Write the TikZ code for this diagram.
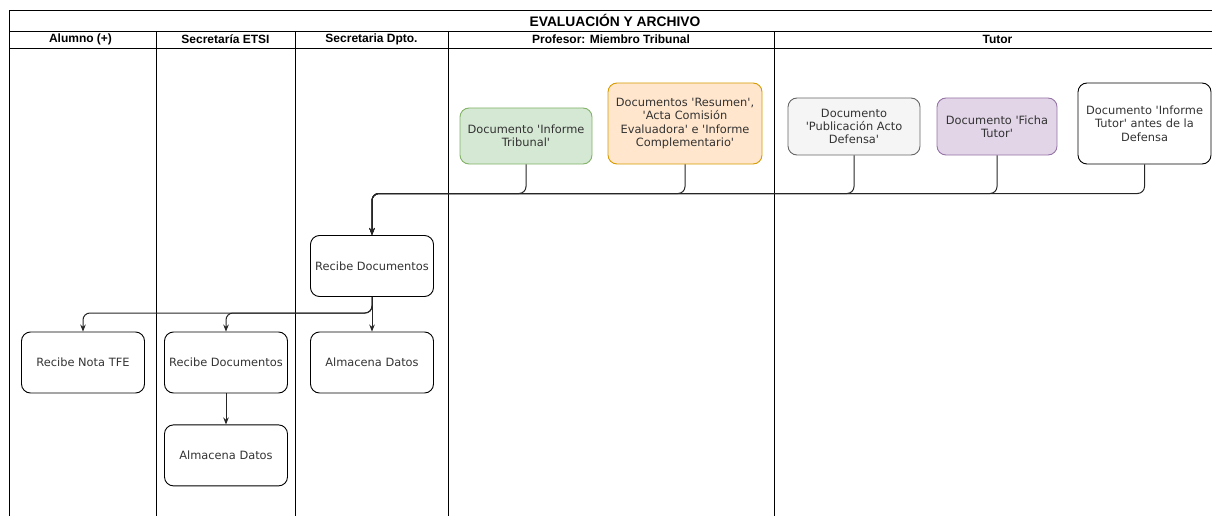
\documentclass[tikz,border=0pt]{standalone}
\usepackage{fontspec}
\setmainfont{DejaVu Sans}
\newfontfamily\headfont{Liberation Sans}
\newfontfamily\boxfont{DejaVu Sans}
\usepackage{xcolor}
\usetikzlibrary{positioning, arrows.meta}

\definecolor{txtgray}{HTML}{333333}
\definecolor{greenfill}{HTML}{D5E8D4}
\definecolor{greendraw}{HTML}{82B366}
\definecolor{orangefill}{HTML}{FFE6CC}
\definecolor{orangedraw}{HTML}{D79B00}
\definecolor{grayfill}{HTML}{F5F5F5}
\definecolor{graydraw}{HTML}{666666}
\definecolor{purplefill}{HTML}{E1D5E7}
\definecolor{purpledraw}{HTML}{9673A6}

\tikzset{
  box/.style={draw, rounded corners=9pt, align=center, text=txtgray, inner sep=2pt,
    font=\boxfont\fontsize{11.4}{13.3}\selectfont, line width=0.9pt,
    minimum width=123pt, minimum height=61pt},
  lanehead/.style={font=\headfont\bfseries\fontsize{12}{14}\selectfont},
  flow/.style={->, rounded corners=7pt, line width=1pt, draw=black!85}
}

\begin{document}
\begin{tikzpicture}[x=1pt, y=-1pt, >={Stealth[length=7pt,width=5.5pt]}, node distance=31pt]
  \useasboundingbox (0,0) rectangle (1212,516);
  \clip (0,0) rectangle (1212,516);

  % pool and lanes
  \draw[line width=0.9pt] (9,530) -- (9,10) -- (1221,10) -- (1221,530);
  \draw[line width=0.9pt] (9,31) -- (1221,31);
  \draw[line width=0.9pt] (9,48) -- (1221,48);
  \foreach \x in {156,295,448,774}
    \draw[line width=0.9pt] (\x,31) -- (\x,530);

  \node[font=\headfont\bfseries\fontsize{13.8}{15}\selectfont] (title) at (615,20.5) {EVALUACIÓN Y ARCHIVO};
  \node[lanehead] (hAlumno) at (80.5,39.5) {Alumno (+)};
  \node[lanehead] (hEtsi) at (225.5,39.5) {Secretaría ETSI};
  \node[lanehead] (hDpto) at (371.5,39.5) {Secretaria Dpto.};
  \node[lanehead] (hProfesor) at (611,39.5) {Profesor: Miembro Tribunal};
  \node[lanehead] (hTutor) at (997.5,39.5) {Tutor};

  % documents
  \node[box, fill=greenfill, draw=greendraw, minimum width=132pt, minimum height=56pt] (tribunal) at (526,136) {Documento 'Informe\\Tribunal'};
  \node[box, fill=orangefill, draw=orangedraw, minimum width=154pt, minimum height=81pt] (resumen) at (685,123.5) {Documentos 'Resumen',\\'Acta Comisión\\Evaluadora' e 'Informe\\Complementario'};
  \node[box, fill=grayfill, draw=graydraw, minimum width=132pt, minimum height=57pt] (publicacion) at (854,126.5) {Documento\\'Publicación Acto\\Defensa'};
  \node[box, fill=purplefill, draw=purpledraw, minimum width=120pt, minimum height=57pt] (ficha) at (997,126.5) {Documento 'Ficha\\Tutor'};
  \node[box, minimum width=133pt, minimum height=81pt] (infTutor) at (1144.5,123.5) {Documento 'Informe\\Tutor' antes de la\\Defensa};

  % secretarias y alumno
  \node[box] (dptoRecibe) at (372,266) {Recibe Documentos};
  \node[box] (dptoAlmacena) at (372,362.5) {Almacena Datos};
  \node[box] (etsiRecibe) at (226,362.5) {Recibe Documentos};
  \node[box] (etsiAlmacena) [below=of etsiRecibe] {Almacena Datos};
  \node[box] (alumnoNota) at (83,362.5) {Recibe Nota TFE};

  \coordinate (bus) at (372,193.5);
  \coordinate (split) at (372,313);

  \draw[flow] (tribunal.south) |- (bus) -- (dptoRecibe.north);
  \draw[flow] (resumen.south) |- (bus) -- (dptoRecibe.north);
  \draw[flow] (publicacion.south) |- (bus) -- (dptoRecibe.north);
  \draw[flow] (ficha.south) |- (bus) -- (dptoRecibe.north);
  \draw[flow] (infTutor.south) |- (bus) -- (dptoRecibe.north);

  \draw[flow] (dptoRecibe.south) -- (split) -| (alumnoNota.north);
  \draw[flow] (dptoRecibe.south) -- (split) -| (etsiRecibe.north);
  \draw[flow] (dptoRecibe.south) -- (dptoAlmacena.north);
  \draw[flow] (etsiRecibe) -- (etsiAlmacena);
\end{tikzpicture}
\end{document}
